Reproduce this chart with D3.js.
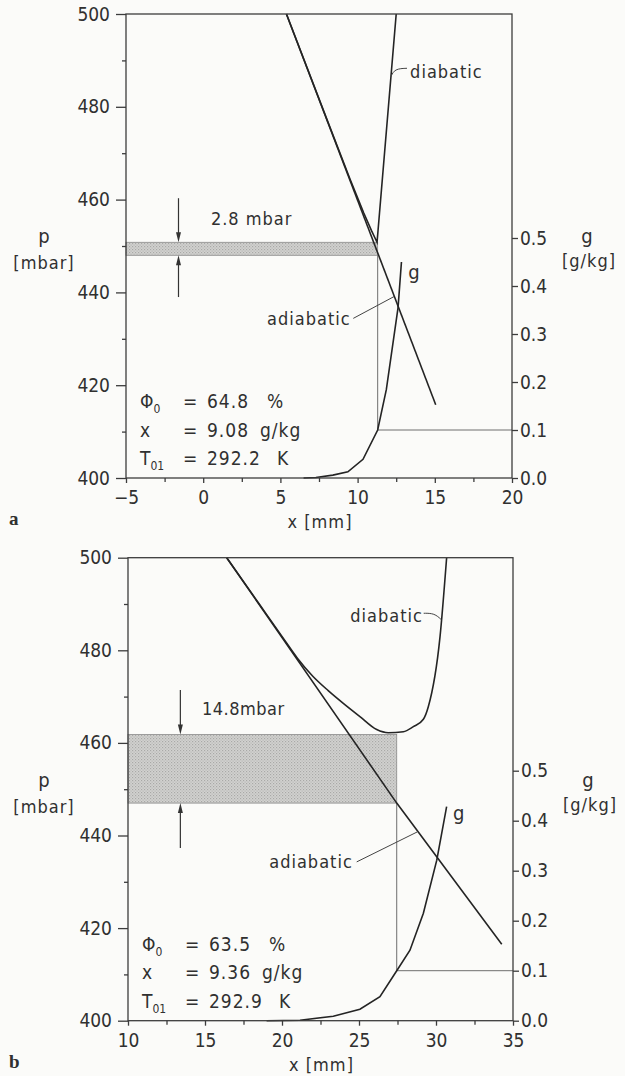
<!DOCTYPE html>
<html>
<head>
<meta charset="utf-8">
<script src="https://cdn.jsdelivr.net/npm/d3@7"></script>
<style>
  body { margin: 0; background: #fbfbf9; }
  svg text { font-family: "DejaVu Sans Condensed", "DejaVu Sans", sans-serif; fill: #303030; }
</style>
</head>
<body>
<svg id="chart"></svg>
<script>
// ---- values ----
const pTicks = [400, 420, 440, 460, 480, 500];
const pMinorTicks = [410, 430, 450, 470, 490];
const gTicks = [0, 0.1, 0.2, 0.3, 0.4, 0.5];
const xTicksA = [-5, 0, 5, 10, 15, 20];
const xTicksB = [10, 15, 20, 25, 30, 35];

// panel a  (x in mm, p in mbar, g in g/kg)
const adiabaticA = [[5.39, 500], [15.06, 415.8]];
const diabaticA = [[5.39, 500], [8.0, 477.4], [9.5, 464.5], [10.4, 457.1], [10.9, 453.3], [11.26, 450.8], [12.5, 500]];
const gCurveA = [[6.5, 0], [7.3, 0.001], [8.4, 0.006], [9.37, 0.013], [10.35, 0.039], [11.3, 0.10], [11.86, 0.184], [12.62, 0.355], [12.84, 0.45]];
const bandA = [448.0, 450.8];
const markA = [11.3, 0.1];
const statsA = ["64.8", "9.08", "292.2"];
const bandLabelA = "2.8 mbar";

// panel b
const adiabaticB = [[16.41, 500], [27.45, 447.0], [34.27, 416.5]];
const diabaticB = [[16.41, 500], [18.5, 490.1], [20.0, 483.0], [21.0, 478.3], [22.0, 474.4], [23.0, 471.3], [24.0, 468.5],
                   [25.06, 465.7], [26.15, 462.9], [26.9, 462.2], [27.88, 462.4], [28.53, 463.5], [29.18, 465.1],
                   [29.5, 467.8], [30.26, 482.9], [30.69, 500]];
const gCurveB = [[19.0, 0], [21.17, 0.001], [23.33, 0.009], [25.06, 0.023], [26.36, 0.048], [27.45, 0.10], [28.31, 0.141],
                 [29.18, 0.215], [30.05, 0.321], [30.69, 0.428]];
const bandB = [447.0, 461.8];
const markB = [27.45, 0.1];
const statsB = ["63.5", "9.36", "292.9"];
const bandLabelB = "14.8mbar";

// ---- layout ----
const svgWidth = 625, svgHeight = 1076;
const lineColor = "#242424", axisColor = "#3c3c3c", thinColor = "#6e6e6e";

const chart = d3.select("#chart")
    .attr("width", svgWidth)
    .attr("height", svgHeight);

const defs = chart.append("defs");
const pat = defs.append("pattern")
    .attr("id", "stipple")
    .attr("width", 3).attr("height", 3)
    .attr("patternUnits", "userSpaceOnUse");
pat.append("rect").attr("width", 3).attr("height", 3).attr("fill", "#d2d2d0");
pat.append("rect").attr("x", 0).attr("y", 0).attr("width", 1.2).attr("height", 1.2).attr("fill", "#a9a9a7");
pat.append("rect").attr("x", 1.5).attr("y", 1.5).attr("width", 1.2).attr("height", 1.2).attr("fill", "#b6b6b4");

function drawPanel(cfg) {
    const xScale = d3.scaleLinear().domain(cfg.xDomain).range([cfg.left, cfg.right]);
    const yScale = d3.scaleLinear().domain([400, 500]).range([cfg.bottom, cfg.top]);
    const gScale = d3.scaleLinear().domain([0, 0.5]).range([cfg.bottom, cfg.bottom - cfg.gHeight]);

    const g = chart.append("g");

    // shaded pressure band
    g.append("rect")
        .attr("x", xScale(cfg.xDomain[0]))
        .attr("y", yScale(cfg.band[1]))
        .attr("width", xScale(cfg.mark[0]) - xScale(cfg.xDomain[0]))
        .attr("height", yScale(cfg.band[0]) - yScale(cfg.band[1]))
        .attr("fill", "url(#stipple)")
        .attr("stroke", "#8a8a8a")
        .attr("stroke-width", 0.8);

    // marker lines: band -> g curve -> right axis
    g.append("line")
        .attr("x1", xScale(cfg.mark[0])).attr("x2", xScale(cfg.mark[0]))
        .attr("y1", yScale(cfg.band[0])).attr("y2", gScale(cfg.mark[1]))
        .attr("stroke", thinColor).attr("stroke-width", 1);
    g.append("line")
        .attr("x1", xScale(cfg.mark[0])).attr("x2", cfg.right)
        .attr("y1", gScale(cfg.mark[1])).attr("y2", gScale(cfg.mark[1]))
        .attr("stroke", thinColor).attr("stroke-width", 1);

    const pLine = d3.line()
        .x(function(d) { return xScale(d[0]); })
        .y(function(d) { return yScale(d[1]); })
        .curve(d3.curveLinear);
    const diabLine = d3.line()
        .x(function(d) { return xScale(d[0]); })
        .y(function(d) { return yScale(d[1]); })
        .curve(cfg.smoothDiab ? d3.curveMonotoneX : d3.curveLinear);
    const gLine = d3.line()
        .x(function(d) { return xScale(d[0]); })
        .y(function(d) { return gScale(d[1]); })
        .curve(d3.curveLinear);

    g.append("path").datum(cfg.adiabatic).attr("d", pLine)
        .attr("fill", "none").attr("stroke", lineColor).attr("stroke-width", 1.6);
    g.append("path").datum(cfg.diabatic).attr("d", diabLine)
        .attr("fill", "none").attr("stroke", lineColor).attr("stroke-width", 1.6);
    g.append("path").datum(cfg.gCurve).attr("d", gLine)
        .attr("fill", "none").attr("stroke", lineColor).attr("stroke-width", 1.6);

    // frame
    g.append("rect")
        .attr("x", cfg.left).attr("y", cfg.top)
        .attr("width", cfg.right - cfg.left).attr("height", cfg.bottom - cfg.top)
        .attr("fill", "none").attr("stroke", axisColor).attr("stroke-width", 1.3);

    // axes
    const yAxis = d3.axisLeft(yScale).tickValues(pTicks).tickSize(10).tickPadding(6).tickSizeOuter(0);
    const yMinor = d3.axisLeft(yScale).tickValues(pMinorTicks).tickSize(4).tickFormat("").tickSizeOuter(0);
    const gAxis = d3.axisRight(gScale).tickValues(gTicks).tickFormat(d3.format(".1f")).tickSize(6).tickPadding(2).tickSizeOuter(0);
    const xAxis = d3.axisBottom(xScale).tickValues(cfg.xTicks).tickSize(5).tickPadding(8).tickSizeOuter(0);
    const xMinor = d3.axisBottom(xScale).tickValues(cfg.xTicks.slice(0, -1).map(function(d) { return d + 2.5; }))
        .tickSize(4).tickFormat("").tickSizeOuter(0);

    [[yAxis, "translate(" + cfg.left + ",0)"], [yMinor, "translate(" + cfg.left + ",0)"],
     [gAxis, "translate(" + cfg.right + ",0)"],
     [xAxis, "translate(0," + cfg.bottom + ")"], [xMinor, "translate(0," + cfg.bottom + ")"]].forEach(function(a) {
        const ax = g.append("g").attr("transform", a[1]).call(a[0]);
        ax.select(".domain").remove();
        ax.selectAll("line").attr("stroke", axisColor).attr("stroke-width", 1.3);
        ax.selectAll("text").style("font-family", "'DejaVu Sans Condensed', 'DejaVu Sans', sans-serif")
            .style("font-size", "19px").attr("fill", "#303030");
    });

    // axis titles
    const tsize = "18px";
    g.append("text").attr("x", 44).attr("y", cfg.top + 229).attr("text-anchor", "middle")
        .style("font-size", "20px").text("p");
    g.append("text").attr("x", 44).attr("y", cfg.top + 255).attr("text-anchor", "middle")
        .style("font-size", tsize).style("letter-spacing", "1px").text("[mbar]");
    g.append("text").attr("x", cfg.right + 75).attr("y", cfg.top + 229).attr("text-anchor", "middle")
        .style("font-size", "20px").text("g");
    g.append("text").attr("x", cfg.right + 77).attr("y", cfg.top + 253).attr("text-anchor", "middle")
        .style("font-size", tsize).style("letter-spacing", "1px").text("[g/kg]");
    g.append("text").attr("x", (cfg.left + cfg.right) / 2 + 1).attr("y", cfg.bottom + 50).attr("text-anchor", "middle")
        .style("font-size", tsize).style("letter-spacing", "1px").text("x  [mm]");

    // panel letter
    g.append("text").attr("x", 9).attr("y", cfg.bottom + 47)
        .style("font-family", "'Liberation Serif', serif").style("font-weight", "bold")
        .style("font-size", "19px").attr("fill", "#222").text(cfg.letter);

    // curve labels with leaders
    g.append("text").attr("x", xScale(cfg.diabLabel[0])).attr("y", yScale(cfg.diabLabel[1]))
        .attr("text-anchor", cfg.diabLabel[2]).style("font-size", tsize).style("letter-spacing", "1px").text("diabatic");
    g.append("path").attr("d", d3.line().curve(d3.curveBasis)(cfg.diabLeader.map(function(d) { return [xScale(d[0]), yScale(d[1])]; })))
        .attr("fill", "none").attr("stroke", "#444").attr("stroke-width", 1);
    g.append("text").attr("x", xScale(cfg.adiaLabel[0])).attr("y", yScale(cfg.adiaLabel[1]))
        .attr("text-anchor", "end").style("font-size", tsize).style("letter-spacing", "1px").text("adiabatic");
    g.append("path").attr("d", d3.line()(cfg.adiaLeader.map(function(d) { return [xScale(d[0]), yScale(d[1])]; })))
        .attr("fill", "none").attr("stroke", "#444").attr("stroke-width", 1);
    g.append("text").attr("x", xScale(cfg.gLabel[0])).attr("y", yScale(cfg.gLabel[1]))
        .style("font-size", "20px").text("g");

    // band label and arrows
    g.append("text").attr("x", xScale(cfg.bandLabelPos[0])).attr("y", yScale(cfg.bandLabelPos[1]))
        .style("font-size", tsize).style("letter-spacing", cfg.bandSpacing).text(cfg.bandLabel);
    function arrow(xv, fromP, toP) {
        const ax = xScale(xv), y1 = yScale(fromP), y2 = yScale(toP);
        const dir = y2 > y1 ? 1 : -1;
        g.append("line").attr("x1", ax).attr("x2", ax).attr("y1", y1).attr("y2", y2 - dir * 8)
            .attr("stroke", "#333").attr("stroke-width", 1.2);
        g.append("path")
            .attr("d", "M" + (ax - 2.5) + "," + (y2 - dir * 10) + "L" + ax + "," + y2 + "L" + (ax + 2.5) + "," + (y2 - dir * 10) + "Z")
            .attr("fill", "#333");
    }
    arrow(cfg.arrowX, cfg.arrowTop, cfg.band[1]);
    arrow(cfg.arrowX, cfg.arrowBottom, cfg.band[0]);

    // stats block
    const sx = cfg.left + 14, ex = cfg.left + 57, vx = cfg.left + 81;
    const rows = [
        { sym: "\u03A6", sub: "0", val: cfg.stats[0], unit: "%", ux: 141 },
        { sym: "x", sub: "", val: cfg.stats[1], unit: "g/kg", ux: 134 },
        { sym: "T", sub: "01", val: cfg.stats[2], unit: "K", ux: 151 }
    ];
    rows.forEach(function(r, i) {
        const yy = cfg.bottom - 70 + i * 28.5;
        const t = g.append("text").attr("x", sx).attr("y", yy).style("font-size", "19px");
        t.append("tspan").text(r.sym);
        if (r.sub) t.append("tspan").attr("dy", 5).style("font-size", "12px").text(r.sub);
        g.append("text").attr("x", ex).attr("y", yy).style("font-size", "19px").text("=");
        g.append("text").attr("x", vx).attr("y", yy).style("font-size", "19px").style("letter-spacing", "1px").text(r.val);
        g.append("text").attr("x", cfg.left + r.ux).attr("y", yy).style("font-size", "19px").style("letter-spacing", "1px").text(r.unit);
    });
}

drawPanel({
    letter: "a", left: 126, right: 512, top: 14, bottom: 478, gHeight: 240,
    xDomain: [-5, 20], xTicks: xTicksA, smoothDiab: false,
    adiabatic: adiabaticA, diabatic: diabaticA, gCurve: gCurveA,
    band: bandA, mark: markA, stats: statsA, bandLabel: bandLabelA, bandSpacing: "1px",
    bandLabelPos: [0.5, 454.6], arrowX: -1.6, arrowTop: 460.3, arrowBottom: 439.0,
    diabLabel: [13.4, 486.2, "start"], diabLeader: [[12.16, 486.5], [12.4, 488.2], [13.2, 488.3]],
    adiaLabel: [9.55, 433.0], adiaLeader: [[9.72, 434.4], [12.36, 439.1]],
    gLabel: [13.28, 442.9]
});

drawPanel({
    letter: "b", left: 128, right: 513, top: 557.7, bottom: 1020.7, gHeight: 250,
    xDomain: [10, 35], xTicks: xTicksB, smoothDiab: true,
    adiabatic: adiabaticB, diabatic: diabaticB, gCurve: gCurveB,
    band: bandB, mark: markB, stats: statsB, bandLabel: bandLabelB, bandSpacing: "0.5px",
    bandLabelPos: [14.8, 466.0], arrowX: 13.4, arrowTop: 471.4, arrowBottom: 437.3,
    diabLabel: [29.15, 486.2, "end"], diabLeader: [[29.2, 488.0], [29.9, 488.0], [30.35, 486.6]],
    adiaLabel: [24.6, 433.0], adiaLeader: [[24.85, 434.3], [28.8, 440.8]],
    gLabel: [31.1, 443.3]
});
</script>
</body>
</html>
